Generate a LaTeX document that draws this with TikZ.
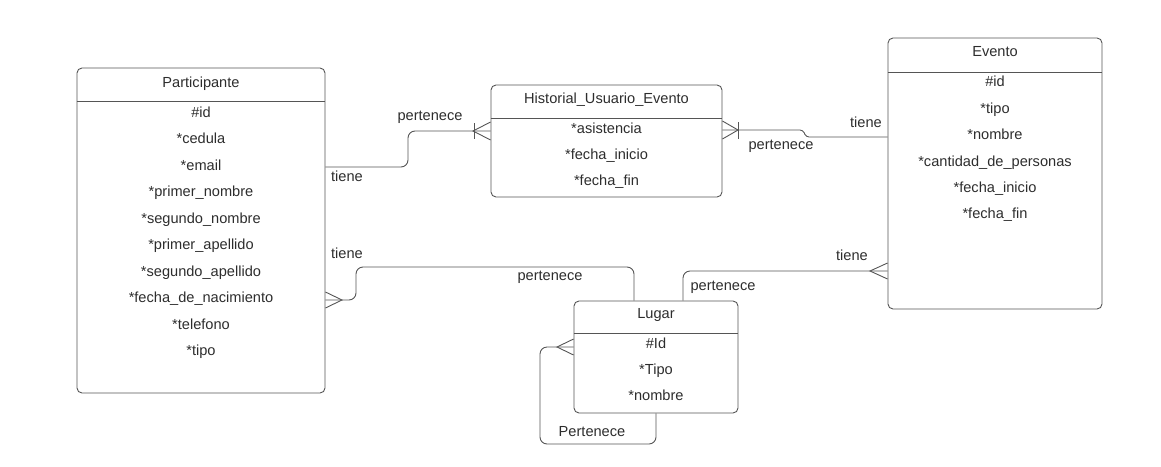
\documentclass[tikz,border=0pt]{standalone}
\usepackage{fontspec}
\setmainfont{Liberation Sans}
\usepackage{tikz}
\definecolor{linegray}{RGB}{85,85,85}
\definecolor{textgray}{RGB}{45,45,45}
\tikzstyle{entity} = [draw=linegray, line width=0.9pt, rounded corners=5pt, inner sep=0pt]
\tikzstyle{conn} = [draw=linegray, line width=0.9pt, rounded corners=7pt]
\tikzstyle{foot} = [draw=linegray, line width=0.9pt]

\begin{document}
\begin{tikzpicture}[x=1pt, y=-1pt, every node/.style={font=\fontsize{14.6}{16}\selectfont, text=textgray, text height=10pt, text depth=3pt}]
		\useasboundingbox (0,0) rectangle (1161,466);

		% entities
		\node[entity, minimum width=248pt, minimum height=325pt] (part) at (201,230.5) {};
		\node (partT) at (201,83.5) {Participante};
		\draw[linegray, line width=0.9pt] (part.west |- 0,101) -- (part.east |- 0,101);
		\foreach \t [count=\i from 0] in {\#id, *cedula, *email, *primer\_nombre, *segundo\_nombre, *primer\_apellido, *segundo\_apellido, *fecha\_de\_nacimiento, *telefono, *tipo}
			\node (partA\i) at (201,{113.5+26.5*\i}) {\t};

		\node[entity, minimum width=231pt, minimum height=112pt] (hist) at (606.5,141) {};
		\node (histT) at (606.5,100) {Historial\_Usuario\_Evento};
		\draw[linegray, line width=0.9pt] (hist.west |- 0,118) -- (hist.east |- 0,118);
		\foreach \t [count=\i from 0] in {*asistencia, *fecha\_inicio, *fecha\_fin}
			\node (histA\i) at (606.5,{130+26*\i}) {\t};

		\node[entity, minimum width=214pt, minimum height=271pt] (evento) at (995,173.5) {};
		\node (eventoT) at (995,53) {Evento};
		\draw[linegray, line width=0.9pt] (evento.west |- 0,72) -- (evento.east |- 0,72);
		\foreach \t [count=\i from 0] in {\#id, *tipo, *nombre, *cantidad\_de\_personas, *fecha\_inicio, *fecha\_fin}
			\node (eventoA\i) at (995,{83.3+26.4*\i}) {\t};

		\node[entity, minimum width=164pt, minimum height=112pt] (lugar) at (656,357) {};
		\node (lugarT) at (656,315) {Lugar};
		\draw[linegray, line width=0.9pt] (lugar.west |- 0,333) -- (lugar.east |- 0,333);
		\foreach \t [count=\i from 0] in {\#Id, *Tipo, *nombre}
			\node (lugarA\i) at (656,{345+26*\i}) {\t};

		% relations
		\draw[conn] (part.east |- 0,167) -- (408,167) -- (408,131) -- (hist.west |- 0,131);
		\draw[foot] (hist.west |- 0,122) -- (473,131) -- (hist.west |- 0,140);
		\draw[foot] (474,123) -- (474,139);
		\node (l1a) at (430,117) {pertenece};
		\node (l1b) at (347,178) {tiene};

		\draw[conn, rounded corners=3pt] (hist.east |- 0,130) -- (803,130) -- (806,137) -- (evento.west |- 0,137);
		\draw[foot] (hist.east |- 0,121) -- (738,130) -- (hist.east |- 0,139);
		\draw[foot] (738,122) -- (738,139);
		\node (l2a) at (781,146) {pertenece};
		\node (l2b) at (866,124) {tiene};

		\draw[conn] (part.east |- 0,300) -- (356,300) -- (356,267) -- (634,267) -- (lugar.north -| 634,0);
		\draw[foot] (part.east |- 0,292) -- (342,300) -- (part.east |- 0,308);
		\node (l3a) at (347,255) {tiene};
		\node (l3b) at (550,277) {pertenece};

		\draw[conn] (lugar.north -| 683,0) -- (683,271) -- (evento.west |- 0,271);
		\draw[foot] (evento.west |- 0,263) -- (870,271) -- (evento.west |- 0,279);
		\node (l4a) at (723,287) {pertenece};
		\node (l4b) at (852,257) {tiene};

		\draw[conn] (lugar.south -| 656,0) -- (656,444) -- (540,444) -- (540,347) -- (lugar.west |- 0,347);
		\draw[foot] (lugar.west |- 0,339) -- (557,347) -- (lugar.west |- 0,355);
		\node (l5) at (592,433) {Pertenece};
	\end{tikzpicture}
\end{document}
